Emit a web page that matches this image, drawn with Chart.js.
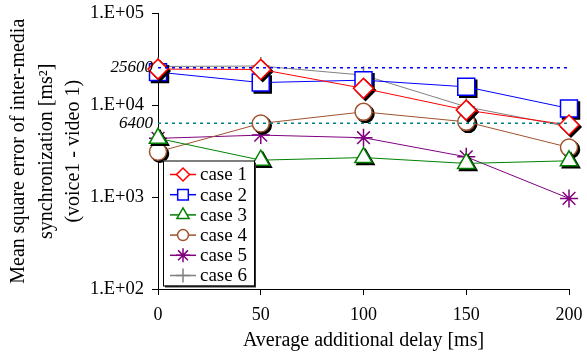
<!DOCTYPE html>
<html>
<head>
<meta charset="utf-8">
<script src="https://cdn.jsdelivr.net/npm/chart.js@4/dist/chart.umd.min.js"></script>
<style>
  html, body { margin: 0; padding: 0; background: #fff; }
  canvas { display: block; }
</style>
</head>
<body>
<canvas id="chart" width="587" height="357"></canvas>
<script>
// data (log scale values)
const delays = [0, 50, 100, 150, 200];
const case1 = [24800, 24600, 15300, 8870, 6100];
const case2 = [23000, 17700, 18800, 15900, 9250];
const case3 = [4370, 2530, 2700, 2330, 2490];
const case4 = [3120, 6350, 8490, 6610, 3480];
const case5 = [4370, 4740, 4440, 2750, 970];
const case6 = [26500, 26800, 21300, 9640, 5830];
const refLines = [25600, 6400];
const yTicks = [100, 1000, 10000, 100000];

const SERIF = "'Liberation Serif', 'Times New Roman', serif";

const series = [
  { label: 'case 1', values: case1, color: '#ff0000', style: 'rectRot',  r: 10,  lr: 6.5 },
  { label: 'case 2', values: case2, color: '#0000ff', style: 'rect',     r: 12,  lr: 7.5 },
  { label: 'case 3', values: case3, color: '#008000', style: 'triangle', r: 10,  lr: 7 },
  { label: 'case 4', values: case4, color: '#a0522d', style: 'circle',   r: 8.5, lr: 5.5 },
  { label: 'case 5', values: case5, color: '#800080', style: 'star',     r: 9,   lr: 7 },
  { label: 'case 6', values: case6, color: '#808080', style: 'cross',    r: 9,   lr: 7 },
];

const toPts = vals => delays.map((d, i) => ({ x: d, y: vals[i] }));

const datasets = [
  { label: 'ref high', data: delays.map(d => ({ x: d, y: refLines[0] })), borderColor: '#0000ff',
    borderDash: [3, 4], borderWidth: 1.5, pointRadius: 0, ref: true },
  { label: 'ref low', data: delays.map(d => ({ x: d, y: refLines[1] })), borderColor: '#008080',
    borderDash: [3, 4], borderWidth: 1.5, pointRadius: 0, ref: true },
  ...series.map(s => ({
    label: s.label,
    data: toPts(s.values),
    borderColor: s.color,
    backgroundColor: '#fff',
    borderWidth: 1,
    clip: false,
    pointStyle: s.style,
    pointRadius: s.r,
    pointBorderWidth: 1.5,
    pointBorderColor: s.color,
    pointBackgroundColor: '#fff',
  }))
];

// dark drop shadow under the closed markers
const markerShadow = {
  id: 'markerShadow',
  beforeDatasetDraw(chart, args) {
    const ds = chart.data.datasets[args.index];
    if (ds.ref || !['rect', 'rectRot', 'triangle', 'circle'].includes(ds.pointStyle)) return;
    const ctx = chart.ctx;
    ctx.save();
    ctx.fillStyle = '#000';
    ctx.strokeStyle = '#000';
    ctx.lineWidth = 1.5;
    args.meta.data.forEach(pt => {
      Chart.helpers.drawPoint(ctx, { pointStyle: ds.pointStyle, radius: ds.pointRadius, rotation: 0, borderWidth: 1.5 }, pt.x + 2, pt.y + 2);
    });
    ctx.restore();
  }
};

// italic labels for the two dotted reference levels
const refLabels = {
  id: 'refLabels',
  afterDraw(chart) {
    const ctx = chart.ctx;
    const y = chart.scales.y;
    ctx.save();
    ctx.font = 'italic 17px ' + SERIF;
    ctx.fillStyle = '#000';
    ctx.textAlign = 'right';
    ctx.textBaseline = 'middle';
    refLines.forEach(v => ctx.fillText(String(v), chart.chartArea.left - 5, y.getPixelForValue(v)));
    ctx.restore();
  }
};

// boxed legend inside the plot, lower left
const boxLegend = {
  id: 'boxLegend',
  afterDraw(chart) {
    const ctx = chart.ctx;
    const ca = chart.chartArea;
    const bx = ca.left + 5, by = ca.top + 147, bw = 91, bh = 125;
    ctx.save();
    ctx.fillStyle = '#333';
    ctx.fillRect(bx + 2, by + 2, bw, bh);
    ctx.fillStyle = '#fff';
    ctx.fillRect(bx, by, bw, bh);
    ctx.strokeStyle = '#000';
    ctx.lineWidth = 1;
    ctx.strokeRect(bx + 0.5, by + 0.5, bw, bh);
    ctx.font = '19px ' + SERIF;
    ctx.textBaseline = 'middle';
    ctx.textAlign = 'left';
    series.forEach((s, i) => {
      const ry = by + 14 + i * 20.2;
      ctx.strokeStyle = s.color;
      ctx.lineWidth = 1.5;
      ctx.beginPath();
      ctx.moveTo(bx + 7, ry);
      ctx.lineTo(bx + 33, ry);
      ctx.stroke();
      ctx.fillStyle = '#fff';
      Chart.helpers.drawPoint(ctx, { pointStyle: s.style, radius: s.lr, rotation: 0, borderWidth: 1.5 }, bx + 20, ry);
      ctx.fillStyle = '#000';
      ctx.fillText(s.label, bx + 37, ry + 1);
    });
    ctx.restore();
  }
};

new Chart(document.getElementById('chart'), {
  type: 'line',
  data: { datasets },
  plugins: [markerShadow, refLabels, boxLegend],
  options: {
    responsive: false,
    animation: false,
    layout: { padding: { top: 13, right: 18, left: 0, bottom: 0 } },
    plugins: { legend: { display: false }, tooltip: { enabled: false } },
    scales: {
      x: {
        type: 'linear', min: 0, max: 200,
        afterFit: s => { s.height = 68; s.paddingLeft = 0; s.paddingRight = 0; },
        ticks: { stepSize: 50, color: '#000', padding: 9, font: { family: SERIF, size: 18 } },
        grid: { drawOnChartArea: false, tickLength: 6, color: '#000' },
        border: { color: '#000', width: 1 },
        title: { display: true, text: 'Average additional delay [ms]', color: '#000',
                 font: { family: SERIF, size: 20 }, padding: { top: 0, bottom: 4 } }
      },
      y: {
        type: 'logarithmic', min: 100, max: 100000,
        afterFit: s => { s.width = 158; s.paddingTop = 0; s.paddingBottom = 0; },
        afterBuildTicks: s => { s.ticks = yTicks.map(v => ({ value: v })); },
        ticks: {
          color: '#000', padding: 8, font: { family: SERIF, size: 18.5 },
          callback: v => '1.E+0' + Math.round(Math.log10(v))
        },
        grid: { drawOnChartArea: false, tickLength: 6, color: '#000' },
        border: { color: '#000', width: 1 },
        title: { display: true, color: '#000',
                 text: ['Mean square error of inter-media', 'synchronization [ms\u00b2]', '(voice1 - video 1)'],
                 font: { family: SERIF, size: 20, lineHeight: 1.375 }, padding: { top: 5, bottom: 0 } }
      }
    }
  }
});
</script>
</body>
</html>
